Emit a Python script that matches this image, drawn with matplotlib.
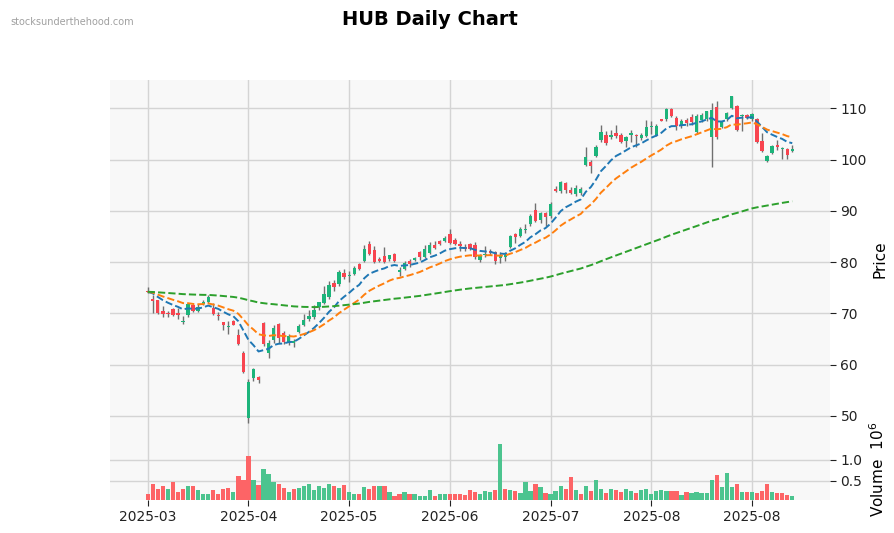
import numpy as np
import matplotlib
matplotlib.use("Agg")
import matplotlib.pyplot as plt
import pandas as pd

# DATA (index = trading day)
opens = [74.4, 72.9, 72.6, 70.5, 70.1, 70.8, 70.1, 68.4, 69.7, 71.6,
         70.5, 71.8, 72.2, 71.1, 69.7, 68.3, 67.3, 68.5, 65.8, 62.3,
         49.7, 57.4, 57.6, 68.2, 62.2, 64.8, 67.9, 66.1, 64.2, 64.3,
         66.3, 67.7, 68.9, 69.2, 71.2, 72.1, 73.2, 76.0, 75.7, 77.8,
         77.2, 77.7, 79.7, 80.2, 83.6, 82.3, 80.6, 81.1, 80.6, 81.5,
         78.0, 78.7, 80.2, 80.5, 81.9, 81.0, 81.8, 83.4, 84.2, 84.1,
         85.4, 84.4, 83.6, 83.0, 83.6, 83.4, 80.5, 81.3, 82.2, 82.0,
         80.8, 81.0, 83.0, 85.5, 85.1, 86.2, 87.4, 90.2, 88.2, 89.5,
         88.9, 94.2, 93.9, 95.4, 94.1, 93.2, 93.4, 99.0, 99.6, 100.7,
         103.8, 104.8, 104.3, 105.1, 104.8, 103.7, 104.8, 104.8, 104.2, 104.6,
         106.3, 104.7, 107.8, 107.9, 109.9, 108.1, 106.6, 107.7, 108.2, 105.3,
         107.7, 107.9, 104.3, 110.3, 106.4, 107.9, 110.1, 110.5, 108.4, 108.7,
         107.9, 107.9, 103.6, 99.8, 101.2, 102.9, 102.0, 102.1, 101.6]
highs = [75.2, 73.6, 72.7, 71.4, 70.5, 71.1, 71.0, 69.5, 72.1, 71.9,
         71.9, 72.6, 73.6, 72.1, 70.3, 68.4, 68.6, 68.7, 66.9, 62.7,
         57.3, 59.4, 57.8, 68.4, 64.8, 67.8, 68.1, 66.6, 65.9, 65.0,
         68.0, 69.8, 70.6, 71.6, 72.3, 75.3, 76.3, 76.5, 78.4, 78.6,
         78.3, 79.3, 79.9, 83.4, 84.2, 83.1, 81.0, 82.9, 81.4, 81.7,
         79.0, 80.3, 80.6, 81.0, 82.1, 83.4, 83.9, 84.2, 84.4, 85.1,
         86.4, 84.6, 84.2, 83.5, 83.7, 84.0, 81.6, 83.2, 82.5, 82.2,
         81.9, 81.9, 85.2, 85.6, 86.8, 87.4, 89.4, 91.5, 89.7, 89.7,
         91.8, 94.8, 95.8, 95.6, 94.7, 95.1, 94.7, 102.4, 99.9, 102.9,
         106.8, 105.6, 105.8, 106.8, 105.1, 104.5, 105.8, 104.9, 105.1, 107.7,
         107.5, 107.0, 107.9, 110.0, 110.0, 108.4, 107.9, 108.0, 108.8, 108.9,
         109.0, 109.5, 111.0, 111.4, 107.6, 109.3, 112.4, 110.7, 108.9, 108.9,
         109.1, 108.1, 105.1, 100.9, 102.9, 103.8, 102.5, 102.3, 102.9]
lows = [73.9, 70.0, 69.8, 69.2, 69.2, 69.4, 69.0, 68.0, 69.2, 70.3,
        70.3, 71.6, 72.0, 69.6, 68.8, 66.8, 65.9, 67.7, 63.8, 58.4,
        48.6, 56.8, 56.5, 63.6, 61.3, 64.3, 64.2, 64.0, 63.8, 63.5,
        66.1, 67.5, 68.6, 69.0, 70.6, 71.9, 72.9, 74.3, 75.4, 76.8,
        76.1, 77.4, 78.5, 80.0, 81.3, 79.8, 80.0, 79.8, 80.3, 80.1,
        77.2, 78.5, 79.0, 80.2, 80.5, 80.8, 81.5, 82.5, 83.4, 83.9,
        83.6, 83.3, 82.2, 82.2, 82.3, 80.6, 80.1, 81.0, 81.3, 79.6,
        79.9, 80.3, 82.8, 83.8, 84.9, 85.6, 87.0, 87.8, 87.6, 87.1,
        88.6, 93.7, 93.5, 93.5, 93.2, 92.9, 93.1, 98.8, 97.3, 100.5,
        103.5, 102.9, 104.0, 104.2, 103.2, 102.4, 103.5, 102.5, 103.8, 104.3,
        105.0, 104.5, 107.5, 107.5, 108.2, 105.8, 106.2, 106.6, 106.8, 105.0,
        107.4, 107.6, 98.5, 104.0, 106.1, 107.6, 109.9, 105.5, 105.5, 107.8,
        107.6, 103.2, 101.4, 99.6, 101.0, 101.9, 100.1, 100.1, 101.4]
closes = [74.1, 72.5, 70.1, 69.8, 69.8, 69.7, 69.6, 68.6, 71.8, 70.5,
          71.2, 72.2, 73.1, 69.8, 69.4, 67.8, 67.5, 67.8, 64.0, 58.6,
          56.6, 59.1, 57.1, 64.0, 64.3, 67.1, 65.2, 64.4, 65.6, 64.7,
          67.6, 68.7, 69.5, 70.6, 72.3, 73.8, 75.6, 75.1, 78.0, 77.0,
          77.4, 78.8, 78.7, 82.6, 81.6, 80.0, 80.2, 80.0, 81.3, 80.3,
          78.4, 79.9, 79.7, 80.7, 81.0, 82.6, 83.4, 82.7, 83.6, 84.7,
          83.8, 83.5, 83.2, 82.6, 82.5, 81.0, 81.2, 81.6, 81.8, 80.3,
          81.4, 81.3, 85.1, 84.8, 86.4, 86.5, 88.9, 88.1, 89.5, 88.7,
          91.4, 93.9, 95.6, 94.1, 93.5, 94.4, 94.2, 100.4, 98.8, 102.4,
          105.3, 103.3, 104.8, 104.5, 103.5, 104.4, 105.1, 104.5, 104.8, 106.3,
          106.6, 106.6, 107.6, 109.9, 108.5, 106.6, 107.5, 107.1, 107.3, 108.5,
          108.7, 109.4, 109.6, 104.3, 107.3, 109.0, 112.3, 105.8, 108.7, 108.1,
          108.8, 103.5, 101.7, 100.6, 102.7, 102.4, 102.3, 100.8, 102.1]
# volume in millions of shares
volumes = [0.18, 0.42, 0.31, 0.37, 0.29, 0.47, 0.24, 0.31, 0.37, 0.37,
           0.27, 0.17, 0.19, 0.27, 0.17, 0.29, 0.32, 0.22, 0.62, 0.52,
           1.09, 0.52, 0.39, 0.79, 0.67, 0.47, 0.42, 0.32, 0.22, 0.29,
           0.32, 0.37, 0.42, 0.27, 0.37, 0.32, 0.42, 0.37, 0.32, 0.39,
           0.22, 0.19, 0.19, 0.34, 0.29, 0.37, 0.37, 0.37, 0.22, 0.13,
           0.19, 0.24, 0.17, 0.17, 0.12, 0.14, 0.27, 0.14, 0.17, 0.18,
           0.17, 0.19, 0.18, 0.16, 0.28, 0.23, 0.18, 0.26, 0.23, 0.28,
           1.39, 0.31, 0.28, 0.26, 0.21, 0.46, 0.26, 0.41, 0.36, 0.21,
           0.18, 0.26, 0.38, 0.31, 0.58, 0.28, 0.18, 0.38, 0.26, 0.51,
           0.31, 0.21, 0.31, 0.28, 0.23, 0.31, 0.26, 0.21, 0.28, 0.31,
           0.18, 0.26, 0.28, 0.26, 0.26, 0.26, 0.16, 0.23, 0.21, 0.23,
           0.21, 0.21, 0.51, 0.64, 0.36, 0.68, 0.36, 0.41, 0.23, 0.23,
           0.23, 0.21, 0.26, 0.43, 0.23, 0.21, 0.21, 0.16, 0.14]

# exponential moving averages: spans and the value each line starts from
ema_spans = [10, 20, 125]
ema_start = [74.2, 74.2, 74.2]
ema_colors = ['#1f77b4', '#ff7f0e', '#2ca02c']

tick_pos = [0, 20, 40, 60, 80, 100, 120]
tick_labels = ['2025-03', '2025-04', '2025-05', '2025-06', '2025-07', '2025-08', '2025-08']

df = pd.DataFrame({'open': opens, 'high': highs, 'low': lows, 'close': closes, 'volume': volumes})
n = len(df)
x = np.arange(n)

up_col = '#1db47b'
down_col = '#f8444f'
vol_up = '#4cc48f'
vol_down = '#fd6466'
bg = '#f8f8f8'
grid_col = '#d4d4d4'

fig = plt.figure(figsize=(8.95, 5.33), dpi=100)
ax = fig.add_axes([0.1229, 0.1782, 0.8045, 0.6717])
axv = fig.add_axes([0.1229, 0.0619, 0.8045, 0.1163], sharex=ax)

for a in (ax, axv):
    a.set_facecolor(bg)
    a.grid(True, color=grid_col, linewidth=1.0)
    a.set_axisbelow(True)
    for s in a.spines.values():
        s.set_visible(False)
    a.yaxis.tick_right()
    a.yaxis.set_label_position('right')
    a.tick_params(colors='#222222', labelsize=10, length=4)

# candles
up = df['close'] >= df['open']
ax.vlines(x, df['low'], df['high'], color='#707070', linewidth=1.0, zorder=2)
body_bottom = np.minimum(df['open'], df['close'])
body_h = np.maximum(np.abs(df['close'] - df['open']), 0.15)
ax.bar(x, body_h, bottom=body_bottom, width=0.65,
       color=np.where(up, up_col, down_col), zorder=3, linewidth=0)

# moving averages
for span, start, col in zip(ema_spans, ema_start, ema_colors):
    s = df['close'].copy()
    s.iloc[0] = start
    ema = s.ewm(span=span, adjust=False).mean()
    ax.plot(x, ema, color=col, linestyle='--', linewidth=1.4, zorder=4)

ax.set_ylim(45.7, 115.5)
ax.set_yticks([50, 60, 70, 80, 90, 100, 110])
ax.set_ylabel('Price', fontsize=11)
ax.tick_params(axis='x', labelbottom=False, length=0)

# volume coloured by close vs previous close
prev = np.concatenate([[df['open'].iloc[0]], df['close'].values[:-1]])
vup = df['close'].values >= prev
axv.bar(x, df['volume'], width=0.85, color=np.where(vup, vol_up, vol_down), zorder=3, linewidth=0)
axv.set_ylim(0.035, 1.53)
axv.set_yticks([0.5, 1.0])
axv.set_yticklabels(['0.5', '1.0'])
axv.set_ylabel('Volume  $10^{6}$', fontsize=11)

axv.set_xlim(-7.5, n - 1 + 7.5)
axv.set_xticks(tick_pos)
axv.set_xticklabels(tick_labels)

fig.text(0.48, 0.963, 'HUB Daily Chart', ha='center', va='center', fontsize=14, fontweight='bold')
fig.text(0.012, 0.958, 'stocksunderthehood.com', ha='left', va='center', fontsize=7, color='#a0a0a0')

fig.savefig('out.png', dpi=100)
